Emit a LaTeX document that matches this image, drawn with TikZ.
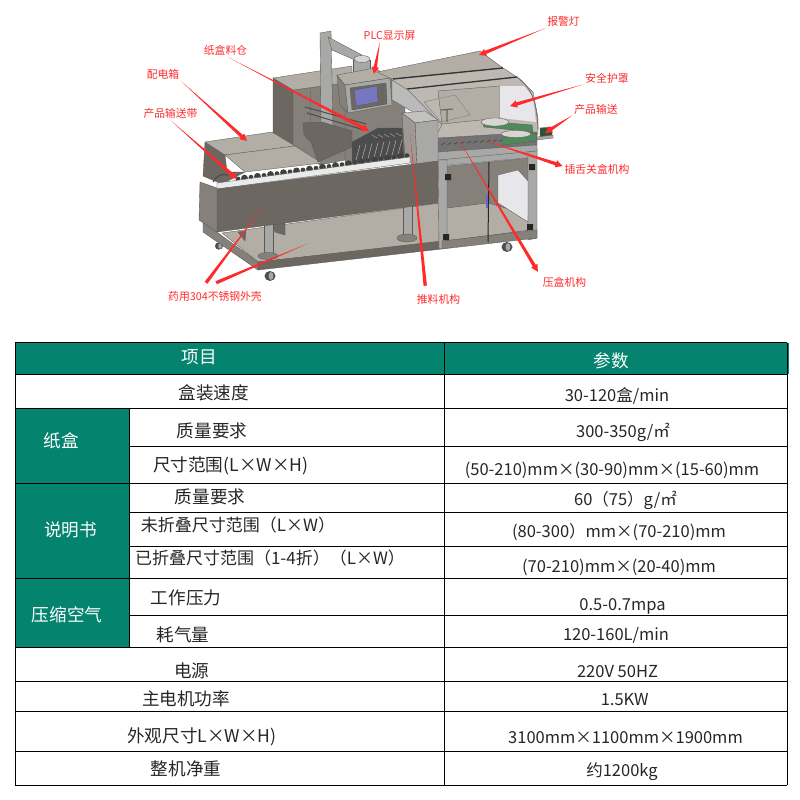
\documentclass[tikz,border=0pt]{standalone}
\usepackage{fontspec}
\usepackage{xcolor}
\setmainfont{Noto Sans CJK SC}
\usetikzlibrary{calc}
\definecolor{tealc}{HTML}{04846F}
\definecolor{redc}{HTML}{FF2A2A}
\definecolor{inkc}{HTML}{262626}
\definecolor{sidec}{HTML}{6C6760}
\definecolor{midc}{HTML}{85807A}
\definecolor{topc}{HTML}{B3AEA5}
\definecolor{steelc}{HTML}{A8A9A7}
\definecolor{paleC}{HTML}{E6E6EB}
\definecolor{glassc}{HTML}{BDB9B2}
\definecolor{greenc}{HTML}{4E8A5A}
\tikzset{
  cell/.style={text=inkc,font=\fontsize{17.6}{18}\selectfont,inner sep=0pt,text height=14pt,text depth=2pt},
  cellb/.style={cell,font=\fontsize{17}{18}\selectfont},
  val/.style={cell,font=\fontsize{16.5}{18}\selectfont},
  head/.style={cell,text=white},
  tag/.style={text=redc,font=\fontsize{10.8}{12}\selectfont,inner sep=0pt,outer sep=2pt,text height=9.5pt,text depth=1pt},
  sh/.style={draw=black!65,line width=.35pt,fill=#1},
  wedge/.style={draw=none,fill=redc,to path={
    -- ($(\tikztotarget)!7pt!(\tikztostart)!1.7pt!90:(\tikztotarget)$)
    -- ($(\tikztotarget)!7pt!(\tikztostart)!3.7pt!90:(\tikztotarget)$)
    -- (\tikztotarget)
    -- ($(\tikztotarget)!7pt!(\tikztostart)!-3.7pt!90:(\tikztotarget)$)
    -- ($(\tikztotarget)!7pt!(\tikztostart)!-1.7pt!90:(\tikztotarget)$)
    -- cycle}},
  taper/.style={draw=none,fill=redc,to path={
    -- ($(\tikztotarget)!1.7pt!90:(\tikztostart)$)
    -- ($(\tikztotarget)!-1.7pt!90:(\tikztostart)$)
    -- cycle}}
}
\begin{document}
\begin{tikzpicture}[x=1pt,y=-1pt]
  \useasboundingbox (0,0) rectangle (800,800);

  % machine: casters, base and lower frame
  \foreach \x/\y/\r in {219/246/4,270/276/5.5,507/247/5.5} {
    \fill[black!70] (\x,\y) ellipse ({\r*1pt} and {\r*.9pt});
    \fill[black!35] (\x+1,\y) ellipse ({\r*.45pt} and {\r*.7pt});
  }
  \path[sh=topc] (222,233) -- (440,203) -- (440,242) -- (258,262) -- cycle;
  \path[sh=midc] (203,222) -- (258,262) -- (258,270) -- (203,232) -- cycle;
  \path[sh=sidec] (258,262) -- (442,241) -- (442,249) -- (258,270) -- cycle;
  \path[sh=midc] (447,166) -- (530,158) -- (530,230) -- (447,241) -- cycle;
  \path[sh=topc] (447,208) -- (488,203) -- (530,215) -- (530,230) -- (447,241) -- cycle;
  \path[sh=paleC] (498,175) -- (518,170) -- (529,182) -- (528,222) -- (498,203) -- cycle;
  \path[sh=steelc] (438,158) -- (537,148) -- (537,157) -- (438,166) -- cycle;
  \path[sh=steelc] (438,160) -- (447,160) -- (447,248) -- (439,249) -- cycle;
  \path[sh=steelc] (528,152) -- (537,150) -- (537,238) -- (528,240) -- cycle;
  \path[sh=midc] (442,241) -- (537,230) -- (537,238) -- (442,249) -- cycle;
  \draw[black!85,line width=1pt] (489,162) -- (488,242);
  \fill[black!85] (445,174) rectangle (451,180) (443,234) rectangle (449,240)
    (529,164) rectangle (535,170) (527,224) rectangle (533,230);
  \draw[steelc!60!blue,line width=1.2pt] (487,195) -- (487,208);

  % legs and brackets
  \path[sh=steelc] (264,223) -- (273,223) -- (273,255) -- (264,255) -- cycle;
  \path[sh=steelc] (403,204) -- (412,204) -- (412,238) -- (403,238) -- cycle;
  \path[sh=midc] (268,256) ellipse (10pt and 3.5pt) (407,238) ellipse (10pt and 4pt);
  \path[sh=sidec] (238,232) -- (246,231) -- (245,241) -- cycle;
  \path[sh=sidec] (273,223) -- (285,221) -- (285,235) -- (275,232) -- cycle;

  % boxes behind the conveyor
  \path[sh=midc] (345,80) -- (405,75) -- (405,160) -- (345,165) -- cycle;
  \path[sh=sidec] (273,78) -- (293,90) -- (293,145) -- (273,133) -- cycle;
  \path[sh=midc] (293,90) -- (345,83) -- (345,160) -- (320,165) -- (293,145) -- cycle;
  \draw[black!55,line width=.35pt] (310,88) -- (310,130);
  \path[sh=topc] (273,78) -- (352,66) -- (352,82) -- (293,90) -- cycle;
  \path[sh=sidec] (205,142) -- (225,155) -- (227,172) -- (245,172) -- (222,184) -- (203,176) -- cycle;
  \path[sh=topc] (205,142) -- (272,132) -- (295,146) -- (225,155) -- cycle;
  \path[sh=topc] (225,155) -- (295,146) -- (322,163) -- (245,172) -- cycle;

  % column, arm and control box
  \path[sh=steelc] (320,33) -- (331,31) -- (333,128) -- (321,128) -- cycle;
  \path[sh=steelc] (328,37) -- (362,55) -- (357,61) -- (332,50) -- cycle;
  \path[sh=steelc] (353,60) -- (370,60) -- (370,74) -- (353,74) -- cycle;
  \path[sh=steelc!50!white] (362,59) ellipse (8pt and 3.5pt);
  \path[sh=midc] (337,75) -- (345,85) -- (348,113) -- (340,105) -- cycle;
  \path[sh=topc] (337,75) -- (375,68) -- (390,78) -- (345,85) -- cycle;
  \path[sh=steelc] (345,85) -- (390,78) -- (392,105) -- (348,113) -- cycle;
  \path[sh=sidec] (350,88) -- (386,83) -- (387,104) -- (352,110) -- cycle;
  \path[sh=steelc!70!blue] (354,90) -- (377,86) -- (378,102) -- (356,106) -- cycle;
  \fill[black!60] (382,88) circle (1.8pt) (382,94) circle (1.8pt) (382,100) circle (1.8pt);
  \path[sh=sidec] (303,123) -- (322,122) -- (352,131) -- (352,147) -- (318,162) -- (311,142) -- (304,135) -- cycle;
  \draw[black!70,line width=1pt] (305,107) -- (366,124) (307,113) -- (364,130);

  % hood and interior
  \path[sh=topc] (377,72) -- (480,51) -- (503,68) -- (392,79) -- cycle;
  \path[sh=glassc] (392,79) -- (503,68) -- (517,77) -- (533,92) -- (538,118) -- (538,135) -- (438,140)
    -- (420,115) -- (392,100) -- cycle;
  \path[sh=topc] (438,91) -- (500,86) -- (500,118) -- (442,124) -- cycle;
  \path[draw=none,fill=paleC] (500,86) -- (524,86) -- (533,97) -- (536,122) -- (500,118) -- cycle;
  \draw[black!80,line width=1.3pt] (393,79) -- (503,68) (407,89) -- (517,77);
  \draw[black!55,line width=.8pt] (517,77) .. controls (530,86) and (537,100) .. (538,130);
  \path[sh=steelc!80!white] (392,80) -- (408,90) -- (442,125) -- (438,132) -- (420,116) -- (392,100) -- cycle;
  \draw[black!45,line width=.6pt] (424,102) -- (455,95) -- (470,115) -- (441,122) -- cycle;
  \draw[black!60,line width=1.2pt] (447,110) -- (447,122) (441,110) -- (453,109);
  \path[sh=black!55] (438,138) -- (537,132) -- (537,145) -- (438,152) -- cycle;
  \path[sh=steelc] (438,152) -- (537,145) -- (537,151) -- (438,160) -- cycle;
  \foreach \i in {0,...,14}
    \draw[black!70,line width=.8pt] ({441+6.5*\i},{145-.42*\i}) -- ++(4,-2);
  \path[sh=greenc] (482,121) -- (532,125) -- (533,132) -- (484,127) -- cycle;
  \path[sh=greenc] (502,138) -- (536,133) -- (536,141) -- (502,145) -- cycle;
  \path[sh=topc!50!white] (495,122) ellipse (14pt and 4pt) (516,134) ellipse (15pt and 3.5pt);
  \path[sh=greenc!60!black] (540,128) -- (552,127) -- (552,136) -- (540,137) -- cycle;
  \path[sh=steelc] (537,137) -- (553,135) -- (553,138) -- (537,140) -- cycle;

  % magazine and chain
  \path[sh=steelc!70!white] (402,113) -- (425,111) -- (438,120) -- (415,123) -- cycle;
  \path[sh=steelc] (415,123) -- (438,120) -- (438,163) -- (417,168) -- cycle;
  \path[sh=midc!80!white] (402,113) -- (415,123) -- (417,168) -- (405,158) -- cycle;
  \path[sh=black!70] (352,142) -- (378,128) -- (402,128) -- (404,156) -- (352,163) -- cycle;
  \foreach \i in {0,...,7}
    \draw[white!70!black,line width=.5pt] ({356+6*\i},{160-.8*\i}) -- ++(4,-15);
  \foreach \i in {0,...,4}
    \draw[white!70!black,line width=.4pt] ({372+6*\i},{135-.5*\i}) -- ++(5,3);

  % conveyor shell
  \foreach \i in {0,...,26}
    \fill[black!75] ({238+6.5*\i},{179-.9*\i}) circle ({2.4pt+mod(\i,2)*1pt});
  \draw[black!70,line width=1.2pt] (213,182) .. controls (216,176) and (222,173) .. (228,175);
  \path[sh=white!75!steelc] (217,183) -- (410,157) -- (410,163) -- (217,189) -- cycle;
  \path[sh=sidec] (217,189) -- (438,161) -- (438,203) -- (217,232) -- cycle;
  \draw[black!60,line width=.35pt] (217,228) -- (438,199);
  \path[sh=midc] (200,182) -- (217,188) -- (217,232) -- (199,220) -- cycle;

  % labels and leaders
  \node[tag](l1) at (163,74) {配电箱};
  \node[tag](l2) at (170.5,113) {产品输送带};
  \node[tag](l3) at (225.5,50) {纸盒料仓};
  \node[tag](l4) at (389.5,35) {PLC显示屏};
  \node[tag](l5) at (563.5,21) {报警灯};
  \node[tag](l6) at (607,78) {安全护罩};
  \node[tag](l7) at (596,109) {产品输送};
  \node[tag](l8) at (597,169) {插舌关盒机构};
  \node[tag,outer sep=5pt](l9) at (564.5,282) {压盒机构};
  \node[tag,outer sep=8pt](l10) at (438.5,299) {推料机构};
  \node[tag,outer sep=8pt](l11) at (215,296) {药用304不锈钢外壳};

  \coordinate (t1) at (247,141);
  \coordinate (t2) at (237,179);
  \coordinate (t3) at (369,131);
  \coordinate (t4) at (374,74);
  \coordinate (t5) at (479,55);
  \coordinate (t6) at (510,106);
  \coordinate (t7) at (545,133);
  \coordinate (s8) at (483,140);
  \coordinate (s9) at (456,135);
  \coordinate (s10) at (410,133);
  \coordinate (s11) at (262,208);
  \coordinate (s12) at (309,243);

  \draw[wedge] (l1.south east) to (t1);
  \draw[wedge] (l2.south) to (t2);
  \draw[wedge] (l3.290) to (t3);
  \draw[wedge] (l4.217) to (t4);
  \draw[wedge] (l5.south west) to (t5);
  \draw[wedge] (l6.195) to (t6);
  \draw[wedge] (l7.195) to (t7);
  \draw[wedge] (s8) to (l8.175);
  \draw[wedge] (s9) to (l9.north west);
  \draw[taper] (s10) to (l10.135);
  \draw[taper] (s11) to (l11.124);
  \draw[taper] (s12) to (l11.85);

  % table
  \fill[tealc] (15,342.5) rectangle (788.5,374.3);
  \fill[tealc] (15,408.3) rectangle (129.3,578.3);
  \fill[tealc] (15,578.3) rectangle (129.3,647.3);
  \draw[black,line width=.8pt]
    (15.3,342.5) -- (787.3,342.5) (15.3,374.3) -- (787.3,374.3) (15.3,408.3) -- (787.3,408.3)
    (129.3,446.3) -- (787.3,446.3) (15.3,483.3) -- (787.3,483.3) (129.3,512.3) -- (787.3,512.3)
    (129.3,546) -- (787.3,546) (15.3,578.3) -- (787.3,578.3) (129.3,615.3) -- (787.3,615.3)
    (15.3,647.3) -- (787.3,647.3) (15.3,681.3) -- (787.3,681.3) (15.3,711.3) -- (787.3,711.3)
    (15.3,751.3) -- (787.3,751.3) (15.3,785) -- (787.3,785)
    (15.3,342.5) -- (15.3,785) (129.3,408.3) -- (129.3,647.3) (444.7,342.5) -- (444.7,785)
    (787.3,342.5) -- (787.3,785);

  \node[head](h1) at (199.3,357) {项目};
  \node[head](h2) at (611,361.7) {参数};
  \node[head](g1) at (61.3,441.7) {纸盒};
  \node[head](g2) at (70.5,530) {说明书};
  \node[head](g3) at (67,615.7) {压缩空气};

  \node[cell](a1) at (213.8,393) {盒装速度};
  \node[val](b1) at (617,395) {30-120盒/min};
  \node[cell](a2) at (212,431) {质量要求};
  \node[val](b2) at (623,431) {300-350g/㎡};
  \node[cell](a3) at (230.8,465) {尺寸范围(L×W×H)};
  \node[val](b3) at (612,469) {(50-210)mm×(30-90)mm×(15-60)mm};
  \node[cell](a4) at (210,497) {质量要求};
  \node[val](b4) at (625.5,499) {60（75）g/㎡};
  \node[cellb](a5) at (238,525.7) {未折叠尺寸范围（L×W）};
  \node[val](b5) at (619,531.7) {(80-300）mm×(70-210)mm};
  \node[cellb](a6) at (270,558) {已折叠尺寸范围（1-4折）（L×W）};
  \node[val](b6) at (619,566.7) {(70-210)mm×(20-40)mm};
  \node[cell](a7) at (186,598) {工作压力};
  \node[val](b7) at (622.5,604) {0.5-0.7mpa};
  \node[cell](a8) at (183,635) {耗气量};
  \node[val](b8) at (616,634) {120-160L/min};
  \node[cell](a9) at (191.7,671) {电源};
  \node[val](b9) at (617.5,671) {220V 50HZ};
  \node[cell](a10) at (186,699) {主电机功率};
  \node[val](b10) at (624.7,699) {1.5KW};
  \node[cell](a11) at (202,736.7) {外观尺寸L×W×H)};
  \node[val](b11) at (625.5,737.7) {3100mm×1100mm×1900mm};
  \node[cell](a12) at (186,769) {整机净重};
  \node[val](b12) at (622,770) {约1200kg};
\end{tikzpicture}
\end{document}
